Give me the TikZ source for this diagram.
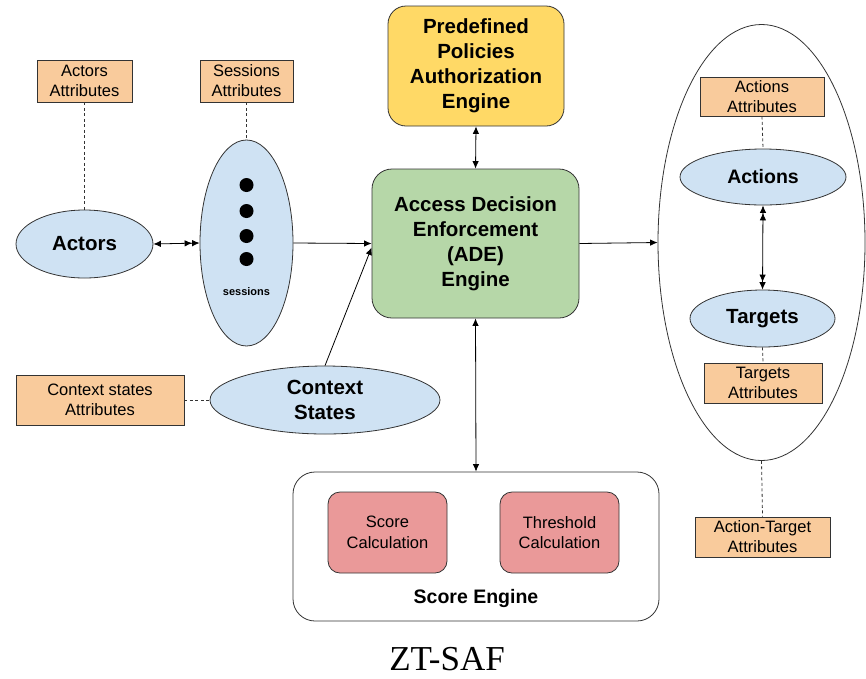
\documentclass[tikz,border=0pt]{standalone}
\usepackage{fontspec}
\setmainfont{Liberation Sans}
\newfontfamily\captionserif{Liberation Serif}
\usetikzlibrary{shapes.geometric,arrows.meta}
\definecolor{attrfill}{HTML}{F9CB9C}
\definecolor{entfill}{HTML}{CFE2F3}
\definecolor{policyfill}{HTML}{FFD966}
\definecolor{adefill}{HTML}{B6D7A8}
\definecolor{calcfill}{HTML}{EA9999}
\definecolor{edge}{HTML}{333333}
\begin{document}
\begin{tikzpicture}[x=1pt,y=-1pt,
  attr/.style={draw=edge, fill=attrfill, line width=0.8pt, align=center,
    inner sep=0pt, font=\fontsize{16.5}{20}\selectfont},
  entity/.style={ellipse, draw=edge, fill=entfill, line width=0.8pt, align=center,
    inner sep=0pt, font=\bfseries\fontsize{20.5}{25}\selectfont},
  engine/.style={draw=edge, line width=0.8pt, align=center, rounded corners=18pt,
    inner sep=0pt, font=\bfseries\fontsize{20.5}{25}\selectfont},
  calc/.style={draw=edge, fill=calcfill, line width=0.8pt, align=center, rounded corners=12pt,
    inner sep=0pt, minimum width=119pt, minimum height=81pt, font=\fontsize{16.5}{20.5}\selectfont},
  link/.style={draw=black, line width=0.8pt},
  dotted link/.style={draw=edge, line width=0.8pt, dash pattern=on 3pt off 2.5pt},
  ah/.tip={Latex[length=7.5pt,width=6.5pt]}
]
\useasboundingbox (0,0) rectangle (866,678);

% subjects side
\node[attr, minimum width=95pt, minimum height=42pt] (actattr) at (84.5,81) {Actors\\Attributes};
\node[attr, minimum width=93pt, minimum height=42pt] (sesattr) at (246.5,81) {Sessions\\Attributes};
\node[entity, minimum width=137pt, minimum height=68pt] (actors) at (84.5,244) {Actors};
\node[entity, minimum width=93pt, minimum height=206pt] (sessions) at (246.5,243) {};
\foreach \yy in {185,211,236,259} \fill (246.5,\yy) circle (7pt);
\node[font=\bfseries\fontsize{11}{13}\selectfont] (seslabel) at (246.5,292) {sessions};

\node[entity, minimum width=230pt, minimum height=68pt] (context) at (325,400) {Context\\States};
\node[attr, minimum width=168pt, minimum height=50pt] (ctxattr) at (100,400) {Context states\\Attributes};

% engines
\node[engine, fill=policyfill, minimum width=176pt, minimum height=120pt] (policy) at (476,66)
  {Predefined\\Policies\\Authorization\\Engine};
\node[engine, fill=adefill, rounded corners=20pt, minimum width=207pt, minimum height=149pt] (ade) at (475.5,243.5)
  {Access Decision\\Enforcement\\(ADE)\\Engine};

\node[draw=edge, line width=0.8pt, rounded corners=22pt, minimum width=366pt, minimum height=149pt, inner sep=0pt] (score) at (476,546.5) {};
\node[calc] (scorecalc) at (387.5,532.5) {Score\\Calculation};
\node[calc] (threshcalc) at (559.5,532.5) {Threshold\\Calculation};
\node[font=\bfseries\fontsize{19.5}{23}\selectfont] (scorelabel) at (476,598) {Score Engine};

% objects side
\node[ellipse, draw=edge, line width=0.8pt, minimum width=207pt, minimum height=436pt, inner sep=0pt] (objects) at (761.5,242.5) {};
\node[attr, minimum width=124pt, minimum height=39pt] (actionattr) at (762,96.5) {Actions\\Attributes};
\node[entity, minimum width=166pt, minimum height=56pt, font=\bfseries\fontsize{19.5}{23}\selectfont] (actions) at (763,177) {Actions};
\node[entity, minimum width=145pt, minimum height=57pt] (targets) at (762.5,318.5) {Targets};
\node[attr, minimum width=118pt, minimum height=40pt] (targetattr) at (763,383) {Targets\\Attributes};
\node[attr, minimum width=135pt, minimum height=40pt] (atattr) at (762.5,537) {Action-Target\\Attributes};

% attribute links
\draw[dotted link] (actattr.south) -- (actors.north);
\draw[dotted link] (sesattr.south) -- (sessions.north);
\draw[dotted link] (ctxattr.east) -- (context.west);
\draw[dotted link] (actionattr.south) -- (actions.north);
\draw[dotted link] (targets.south) -- (targetattr.north);
\draw[dotted link] (objects.south) -- (atattr.north);

% flow connectors
\draw[link, {ah}-{ah[] ah}] (actors.east) -- (sessions.west);
\draw[link, -{ah}] (sessions.east) -- (ade.west);
\draw[link, -{ah}] (context.north) -- ([yshift=-4pt]ade.west);
\draw[link, {ah}-{ah}] (policy.south) -- (ade.north);
\draw[link, {ah}-{ah}] (ade.south) -- (score.north);
\draw[link, -{ah}] (ade.east) -- (objects.west);
\draw[link, {ah[] ah}-{ah[] ah}] (actions.south) -- (targets.north);

\node[inner sep=0pt, font=\captionserif\fontsize{35}{37}\selectfont] (caption) at (447,659) {ZT-SAF};
\end{tikzpicture}
\end{document}
